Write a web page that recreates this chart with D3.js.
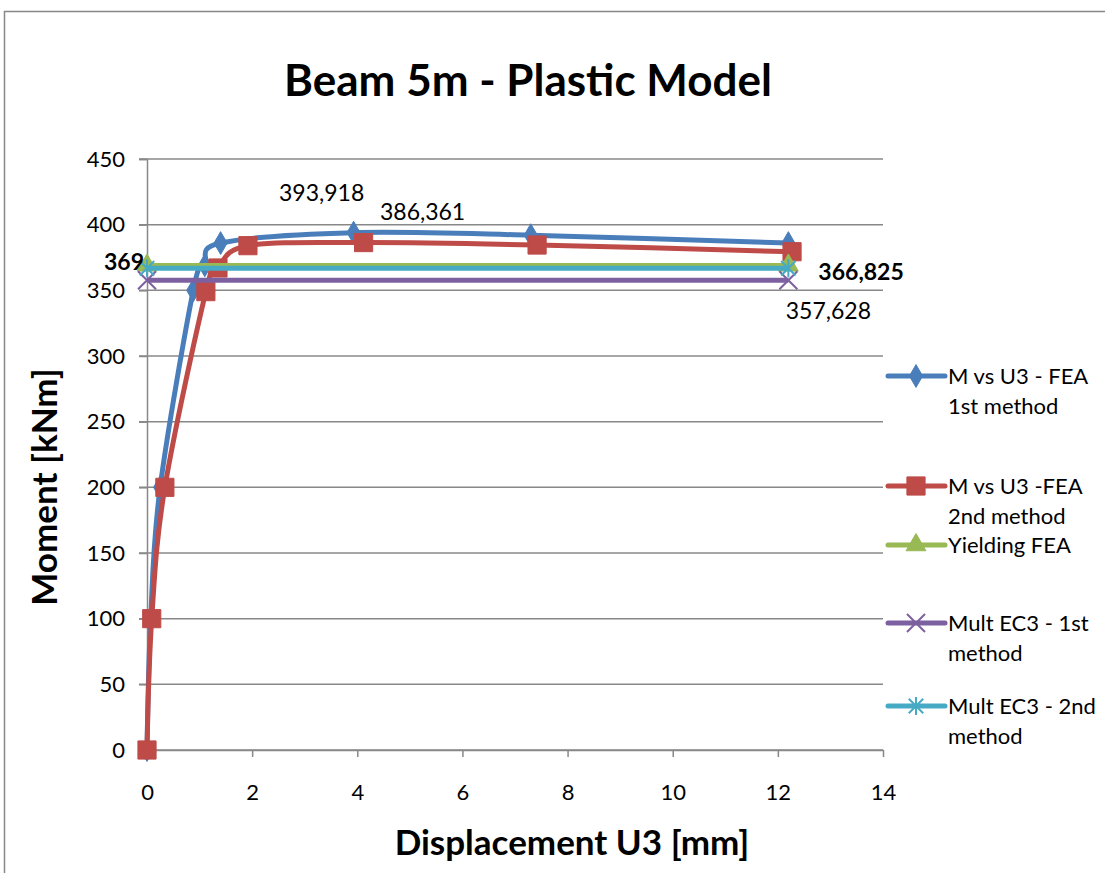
<!DOCTYPE html>
<meta charset="utf-8">
<style>
body { margin: 0; background: #fff; }
text { font-family: Lato, "Open Sans", sans-serif; fill: #000; }
</style>
<body>
<script src="https://cdn.jsdelivr.net/npm/d3@7"></script>
<script>
// series values
var xFea1 = [0, 0.07, 0.25, 0.88, 1.1, 1.4, 3.93, 7.3, 12.2];
var yFea1 = [0, 100, 200, 350, 369, 386, 393.918, 392, 386];
var xFea2 = [0, 0.09, 0.34, 1.12, 1.35, 1.92, 4.12, 7.42, 12.27];
var yFea2 = [0, 100, 200, 349, 367, 384, 386.361, 384.5, 379.4];
var xLevel = [0, 12.2];
var yYield = [369, 369];
var yEc3a = [357.628, 357.628];
var yEc3b = [366.825, 366.825];

var xTicks = [0, 2, 4, 6, 8, 10, 12, 14];
var yTicks = [0, 50, 100, 150, 200, 250, 300, 350, 400, 450];

var width = 1105, height = 873;
var margin = {left: 147, right: 222, top: 159, bottom: 123};

var svg = d3.select("body").append("svg")
    .attr("width", width)
    .attr("height", height);

// chart border
svg.append("rect")
    .attr("x", 4.5).attr("y", 11.5)
    .attr("width", 1200).attr("height", 1000)
    .attr("fill", "none")
    .attr("stroke", "#888")
    .attr("stroke-width", 1.5);

var x = d3.scaleLinear().domain([0, 14]).range([margin.left, width - margin.right]);
var y = d3.scaleLinear().domain([0, 450]).range([height - margin.bottom, margin.top]);

// gridlines
svg.append("g").selectAll("line")
    .data(yTicks)
  .enter().append("line")
    .attr("x1", x(0) - 8).attr("x2", x(14))
    .attr("y1", function(d) { return y(d); })
    .attr("y2", function(d) { return y(d); })
    .attr("stroke", "#888").attr("stroke-width", 1.5);

// y axis
var yAxis = svg.append("g")
    .attr("transform", "translate(" + x(0) + ",0)")
    .call(d3.axisLeft(y).tickValues(yTicks).tickSize(8).tickPadding(14));
yAxis.select(".domain").attr("stroke", "#888").attr("stroke-width", 1.5);
yAxis.selectAll(".tick line").attr("stroke", "#888").attr("stroke-width", 1.5);
yAxis.selectAll(".tick text").style("font-size", "22px").attr("fill", "#000");

// x axis
var xAxis = svg.append("g")
    .attr("transform", "translate(0," + y(0) + ")")
    .call(d3.axisBottom(x).tickValues(xTicks).tickSize(7).tickSizeOuter(0).tickPadding(27));
xAxis.select(".domain").attr("stroke", "#888").attr("stroke-width", 1.5);
xAxis.selectAll(".tick line").attr("stroke", "#888").attr("stroke-width", 1.5);
xAxis.selectAll(".tick text").style("font-size", "22px").attr("fill", "#000");

// marker shapes
var xCross = function(s) {
  return "M" + (-s) + "," + (-s) + "L" + s + "," + s + "M" + (-s) + "," + s + "L" + s + "," + (-s);
};
var star = function(s) {
  return xCross(s * 0.8) + "M0," + (-s) + "L0," + s;
};

var series = [
  {name: ["M vs U3 - FEA", "1st method"], xs: xFea1, ys: yFea1, color: "#4A7EBB", smooth: true,
   marker: d3.symbol().type(d3.symbolDiamond).size(150)(), fill: true},
  {name: ["M vs U3 -FEA", "2nd method"], xs: xFea2, ys: yFea2, color: "#BE4B48", smooth: true,
   marker: d3.symbol().type(d3.symbolSquare).size(330)(), fill: true},
  {name: ["Yielding FEA"], xs: xLevel, ys: yYield, color: "#98B954", smooth: false,
   marker: d3.symbol().type(d3.symbolTriangle).size(170)(), fill: true},
  {name: ["Mult EC3 - 1st", "method"], xs: xLevel, ys: yEc3a, color: "#7D60A0", smooth: false,
   marker: xCross(9), fill: false},
  {name: ["Mult EC3 - 2nd", "method"], xs: xLevel, ys: yEc3b, color: "#46AAC5", smooth: false,
   marker: star(9), fill: false}
];

series.forEach(function(s) {
  var pts = s.xs.map(function(v, j) { return [v, s.ys[j]]; });
  var line = d3.line()
      .x(function(d) { return x(d[0]); })
      .y(function(d) { return y(d[1]); })
      .curve(s.smooth ? d3.curveCardinal.tension(0) : d3.curveLinear);
  svg.append("path")
      .datum(pts)
      .attr("d", line)
      .attr("fill", "none")
      .attr("stroke", s.color)
      .attr("stroke-width", 5)
      .attr("stroke-linejoin", "round");
  svg.append("g").selectAll("path")
      .data(pts)
    .enter().append("path")
      .attr("transform", function(d) { return "translate(" + x(d[0]) + "," + y(d[1]) + ")"; })
      .attr("d", s.marker)
      .attr("fill", s.fill ? s.color : "none")
      .attr("stroke", s.color)
      .attr("stroke-width", s.fill ? 1 : 2);
});

// data labels
function label(px, py, txt, dx, dy, anchor, bold) {
  svg.append("text")
      .attr("x", x(px) + dx)
      .attr("y", y(py) + dy)
      .attr("text-anchor", anchor)
      .style("font-size", "23px")
      .style("font-weight", bold ? "bold" : "normal")
      .text(txt);
}
label(xFea1[6], yFea1[6], "393,918", -32, -32, "middle", false);
label(xFea2[6], yFea2[6], "386,361", 59, -23, "middle", false);
label(xLevel[0], yYield[0], "369", -3, 5, "end", true);
label(xLevel[1], yEc3b[1], "366,825", 30, 12, "start", true);
label(xLevel[1], yEc3a[1], "357,628", 40, 39, "middle", false);

// title and axis titles
svg.append("text")
    .attr("x", 528).attr("y", 96)
    .attr("text-anchor", "middle")
    .style("font-size", "44px").style("font-weight", "bold")
    .text("Beam 5m - Plastic Model");

svg.append("text")
    .attr("x", 572).attr("y", 855)
    .attr("text-anchor", "middle")
    .style("font-size", "35px").style("font-weight", "bold")
    .text("Displacement U3 [mm]");

svg.append("text")
    .attr("transform", "translate(57,487) rotate(-90)")
    .attr("text-anchor", "middle")
    .style("font-size", "35px").style("font-weight", "bold")
    .text("Moment [kNm]");

// legend
var legendY = [376, 486, 545, 623, 706];
series.forEach(function(s, i) {
  var g = svg.append("g").attr("transform", "translate(888," + legendY[i] + ")");
  g.append("line")
      .attr("x1", 0).attr("x2", 57)
      .attr("stroke", s.color).attr("stroke-width", 5)
      .attr("stroke-linecap", "round");
  g.append("path")
      .attr("transform", "translate(28,0)")
      .attr("d", s.marker)
      .attr("fill", s.fill ? s.color : "none")
      .attr("stroke", s.color)
      .attr("stroke-width", s.fill ? 1 : 2);
  s.name.forEach(function(t, k) {
    g.append("text")
        .attr("x", 60).attr("y", 8 + k * 30)
        .style("font-size", "22px")
        .text(t);
  });
});
</script>
</body>
